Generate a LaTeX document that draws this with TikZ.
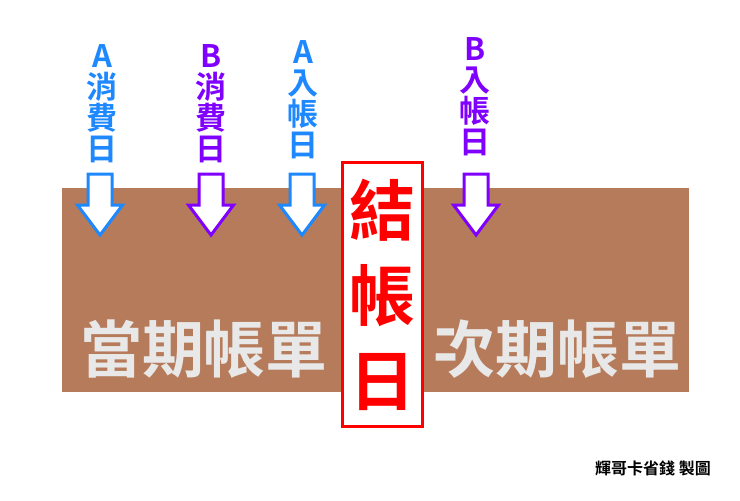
\documentclass[tikz,border=0pt]{standalone}
\usepackage{fontspec}
\newfontfamily\cjk{Noto Sans CJK TC}[BoldFont={Noto Sans CJK TC Bold}]
\usetikzlibrary{positioning}
\definecolor{billbrown}{RGB}{181,123,90}
\definecolor{dayblue}{RGB}{30,136,255}
\definecolor{daypurple}{RGB}{128,0,255}
\definecolor{billred}{RGB}{255,0,0}
\definecolor{billgray}{RGB}{232,232,232}

\begin{document}
\begin{tikzpicture}[x=1pt,y=-1pt,
    daytext/.style={font=\cjk\bfseries\fontsize{31}{31}\selectfont, align=center, inner sep=0pt, anchor=north},
    hollow/.style={fill=white, line width=3pt, line join=miter},
    period/.style={font=\cjk\bfseries\fontsize{62}{62}\selectfont, text=billgray, inner sep=0pt},
    closing/.style={draw=billred, line width=3pt, fill=white, text=billred, align=center, inner sep=0pt,
        font=\cjk\bfseries\fontsize{66}{85}\selectfont, minimum width=80pt, minimum height=264pt}
]
    \useasboundingbox (0,0) rectangle (740,501);

    % bill period band
    \fill[billbrown] (62,188) rectangle (689,392);
    \node[period] (current) at (204,349) {當期帳單};
    \node[period] (next) at (557,349) {次期帳單};

    % day labels
    \node[daytext, text=dayblue] (spendA) at (102,44) {A\\消\\費\\日};
    \node[daytext, text=daypurple] (spendB) at (211,44) {B\\消\\費\\日};
    \node[daytext, text=dayblue] (postA) at (303,40) {A\\入\\帳\\日};
    \node[daytext, text=daypurple] (postB) at (475,37) {B\\入\\帳\\日};

    % hollow down arrows
    \foreach \cx/\col in {100/dayblue,211/daypurple,302/dayblue,476/daypurple}
        \draw[hollow, draw=\col] (\cx-12,174) -- (\cx+12,174) -- (\cx+12,205) -- (\cx+22.5,205)
            -- (\cx,235) -- (\cx-22.5,205) -- (\cx-12,205) -- cycle;

    % closing day
    \node[closing] (closeday) at (382,294.5) {結\\帳\\日};

    \node[font=\cjk\bfseries\fontsize{16}{16}\selectfont, inner sep=0pt] (credit) at (653,468) {輝哥卡省錢 製圖};
\end{tikzpicture}
\end{document}
